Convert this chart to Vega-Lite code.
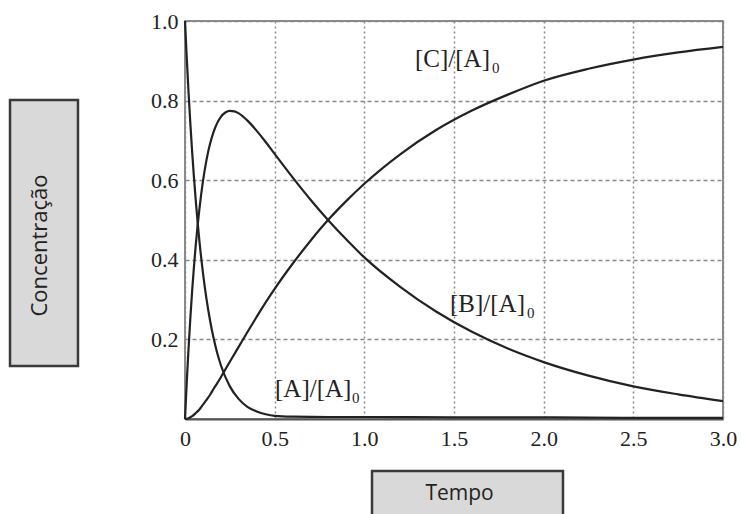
{
  "$schema": "https://vega.github.io/schema/vega-lite/v6.json",
  "width": 538,
  "height": 398,
  "autosize": {"type": "none"},
  "padding": {"left": 185, "top": 21, "right": 18, "bottom": 95},
  "background": "white",
  "config": {
    "font": "Liberation Serif",
    "view": {"stroke": "#666", "strokeWidth": 1.5},
    "axis": {"labelFont": "Liberation Serif", "labelFontSize": 22, "labelColor": "#222"}
  },
  "datasets": {
    "curves": [
      {"t": 0, "v": 1, "s": "A"}, {"t": 0.01, "v": 0.905, "s": "A"}, {"t": 0.02, "v": 0.819, "s": "A"}, {"t": 0.03, "v": 0.741, "s": "A"}, {"t": 0.04, "v": 0.670, "s": "A"}, {"t": 0.05, "v": 0.607, "s": "A"}, {"t": 0.06, "v": 0.549, "s": "A"}, {"t": 0.08, "v": 0.449, "s": "A"}, {"t": 0.1, "v": 0.368, "s": "A"}, {"t": 0.12, "v": 0.301, "s": "A"}, {"t": 0.14, "v": 0.247, "s": "A"}, {"t": 0.16, "v": 0.202, "s": "A"}, {"t": 0.18, "v": 0.165, "s": "A"}, {"t": 0.2, "v": 0.135, "s": "A"}, {"t": 0.25, "v": 0.082, "s": "A"}, {"t": 0.3, "v": 0.050, "s": "A"}, {"t": 0.35, "v": 0.030, "s": "A"}, {"t": 0.4, "v": 0.019, "s": "A"}, {"t": 0.45, "v": 0.012, "s": "A"}, {"t": 0.5, "v": 0.008, "s": "A"}, {"t": 0.6, "v": 0.006, "s": "A"}, {"t": 0.8, "v": 0.005, "s": "A"}, {"t": 1.0, "v": 0.005, "s": "A"}, {"t": 1.5, "v": 0.004, "s": "A"}, {"t": 2.0, "v": 0.004, "s": "A"}, {"t": 2.5, "v": 0.003, "s": "A"}, {"t": 3.0, "v": 0.003, "s": "A"},
      {"t": 0, "v": 0, "s": "B"}, {"t": 0.01, "v": 0.095, "s": "B"}, {"t": 0.02, "v": 0.179, "s": "B"}, {"t": 0.03, "v": 0.255, "s": "B"}, {"t": 0.04, "v": 0.323, "s": "B"}, {"t": 0.05, "v": 0.383, "s": "B"}, {"t": 0.06, "v": 0.437, "s": "B"}, {"t": 0.08, "v": 0.526, "s": "B"}, {"t": 0.1, "v": 0.597, "s": "B"}, {"t": 0.12, "v": 0.651, "s": "B"}, {"t": 0.14, "v": 0.692, "s": "B"}, {"t": 0.16, "v": 0.722, "s": "B"}, {"t": 0.18, "v": 0.744, "s": "B"}, {"t": 0.2, "v": 0.759, "s": "B"}, {"t": 0.225, "v": 0.770, "s": "B"}, {"t": 0.25, "v": 0.774, "s": "B"}, {"t": 0.275, "v": 0.773, "s": "B"}, {"t": 0.3, "v": 0.768, "s": "B"}, {"t": 0.35, "v": 0.749, "s": "B"}, {"t": 0.4, "v": 0.724, "s": "B"}, {"t": 0.45, "v": 0.696, "s": "B"}, {"t": 0.5, "v": 0.666, "s": "B"}, {"t": 0.6, "v": 0.607, "s": "B"}, {"t": 0.7, "v": 0.551, "s": "B"}, {"t": 0.8, "v": 0.499, "s": "B"}, {"t": 0.9, "v": 0.451, "s": "B"}, {"t": 1.0, "v": 0.406, "s": "B"}, {"t": 1.2, "v": 0.332, "s": "B"}, {"t": 1.4, "v": 0.270, "s": "B"}, {"t": 1.6, "v": 0.219, "s": "B"}, {"t": 1.8, "v": 0.177, "s": "B"}, {"t": 2.0, "v": 0.143, "s": "B"}, {"t": 2.25, "v": 0.109, "s": "B"}, {"t": 2.5, "v": 0.082, "s": "B"}, {"t": 2.75, "v": 0.062, "s": "B"}, {"t": 3.0, "v": 0.045, "s": "B"},
      {"t": 0, "v": 0, "s": "C"}, {"t": 0.02, "v": 0.002, "s": "C"}, {"t": 0.04, "v": 0.007, "s": "C"}, {"t": 0.06, "v": 0.015, "s": "C"}, {"t": 0.08, "v": 0.024, "s": "C"}, {"t": 0.1, "v": 0.036, "s": "C"}, {"t": 0.12, "v": 0.048, "s": "C"}, {"t": 0.14, "v": 0.061, "s": "C"}, {"t": 0.16, "v": 0.076, "s": "C"}, {"t": 0.18, "v": 0.090, "s": "C"}, {"t": 0.2, "v": 0.105, "s": "C"}, {"t": 0.25, "v": 0.144, "s": "C"}, {"t": 0.3, "v": 0.182, "s": "C"}, {"t": 0.35, "v": 0.220, "s": "C"}, {"t": 0.4, "v": 0.257, "s": "C"}, {"t": 0.45, "v": 0.293, "s": "C"}, {"t": 0.5, "v": 0.327, "s": "C"}, {"t": 0.6, "v": 0.390, "s": "C"}, {"t": 0.7, "v": 0.448, "s": "C"}, {"t": 0.8, "v": 0.501, "s": "C"}, {"t": 0.9, "v": 0.548, "s": "C"}, {"t": 1.0, "v": 0.591, "s": "C"}, {"t": 1.2, "v": 0.665, "s": "C"}, {"t": 1.4, "v": 0.726, "s": "C"}, {"t": 1.6, "v": 0.775, "s": "C"}, {"t": 1.8, "v": 0.815, "s": "C"}, {"t": 2.0, "v": 0.850, "s": "C"}, {"t": 2.25, "v": 0.880, "s": "C"}, {"t": 2.5, "v": 0.903, "s": "C"}, {"t": 2.75, "v": 0.921, "s": "C"}, {"t": 3.0, "v": 0.935, "s": "C"}
    ],
    "labels": [
      {"t": 1.2825, "v": 0.884, "name": "[C]/[A]"},
      {"t": 1.4777, "v": 0.2688, "name": "[B]/[A]"},
      {"t": 0.5019, "v": 0.0553, "name": "[A]/[A]"}
    ]
  },
  "layer": [
    {
      "data": {"values": [{}]},
      "mark": {"type": "rect", "fill": "#d9d9d9", "stroke": "#3a3a3a", "strokeWidth": 2.5, "opacity": 1, "strokeOpacity": 1},
      "encoding": {
        "x": {"datum": -0.9758, "type": "quantitative", "scale": {"domain": [0, 3], "nice": false, "zero": false},
              "axis": {"values": [0, 0.5, 1, 1.5, 2, 2.5, 3], "labelExpr": "datum.value == 0 ? '0' : format(datum.value, '.1f')", "labelPadding": 9, "labelFlush": false, "labelOverlap": false, "domainColor": "#555", "domainWidth": 2, "grid": true, "gridColor": "#888", "gridWidth": 1.5, "gridDash": [2, 3], "labelAngle": 0, "ticks": false, "title": null, "labelFont": "Liberation Serif", "labelFontSize": 22, "labelColor": "#222"}},
        "x2": {"datum": -0.5967},
        "y": {"datum": 0.8015, "type": "quantitative", "scale": {"domain": [0, 1], "nice": false},
              "axis": {"values": [0.2, 0.4, 0.6, 0.8, 1.0], "format": ".1f", "labelPadding": 7, "labelFlush": false, "labelOverlap": false, "domain": false, "grid": true, "gridColor": "#888", "gridWidth": 1.5, "gridDash": [4, 3], "ticks": false, "title": null, "labelFont": "Liberation Serif", "labelFontSize": 22, "labelColor": "#222"}},
        "y2": {"datum": 0.1332}
      }
    },
    {
      "data": {"values": [{}]},
      "mark": {"type": "rect", "fill": "#d9d9d9", "stroke": "#3a3a3a", "strokeWidth": 2.5, "opacity": 1, "strokeOpacity": 1},
      "encoding": {
        "x": {"datum": 1.0428, "type": "quantitative"},
        "x2": {"datum": 2.1078},
        "y": {"datum": -0.1307, "type": "quantitative"},
        "y2": {"datum": -0.27}
      }
    },
    {
      "data": {"values": [{}]},
      "mark": {"type": "text", "text": "Concentração", "font": "Open Sans", "fontSize": 22, "color": "#222", "angle": 270, "align": "center", "baseline": "alphabetic"},
      "encoding": {
        "x": {"datum": -0.7695, "type": "quantitative"},
        "y": {"datum": 0.436, "type": "quantitative"}
      }
    },
    {
      "data": {"values": [{}]},
      "mark": {"type": "text", "text": "Tempo", "font": "Open Sans", "fontSize": 21, "color": "#222", "align": "center", "baseline": "alphabetic"},
      "encoding": {
        "x": {"datum": 1.531, "type": "quantitative"},
        "y": {"datum": -0.2035, "type": "quantitative"}
      }
    },
    {
      "data": {"name": "curves"},
      "mark": {"type": "line", "color": "#222", "strokeWidth": 2.2, "interpolate": "monotone"},
      "encoding": {
        "x": {"field": "t", "type": "quantitative"},
        "y": {"field": "v", "type": "quantitative"},
        "detail": {"field": "s"}
      }
    },
    {
      "data": {"name": "labels"},
      "mark": {"type": "text", "font": "Liberation Serif", "fontSize": 25, "color": "#222", "align": "left", "baseline": "alphabetic"},
      "encoding": {
        "x": {"field": "t", "type": "quantitative"},
        "y": {"field": "v", "type": "quantitative"},
        "text": {"field": "name"}
      }
    },
    {
      "data": {"name": "labels"},
      "mark": {"type": "text", "text": "0", "font": "Liberation Serif", "fontSize": 15, "color": "#222", "align": "left", "baseline": "alphabetic", "dx": 77, "dy": 6},
      "encoding": {
        "x": {"field": "t", "type": "quantitative"},
        "y": {"field": "v", "type": "quantitative"}
      }
    }
  ]
}
